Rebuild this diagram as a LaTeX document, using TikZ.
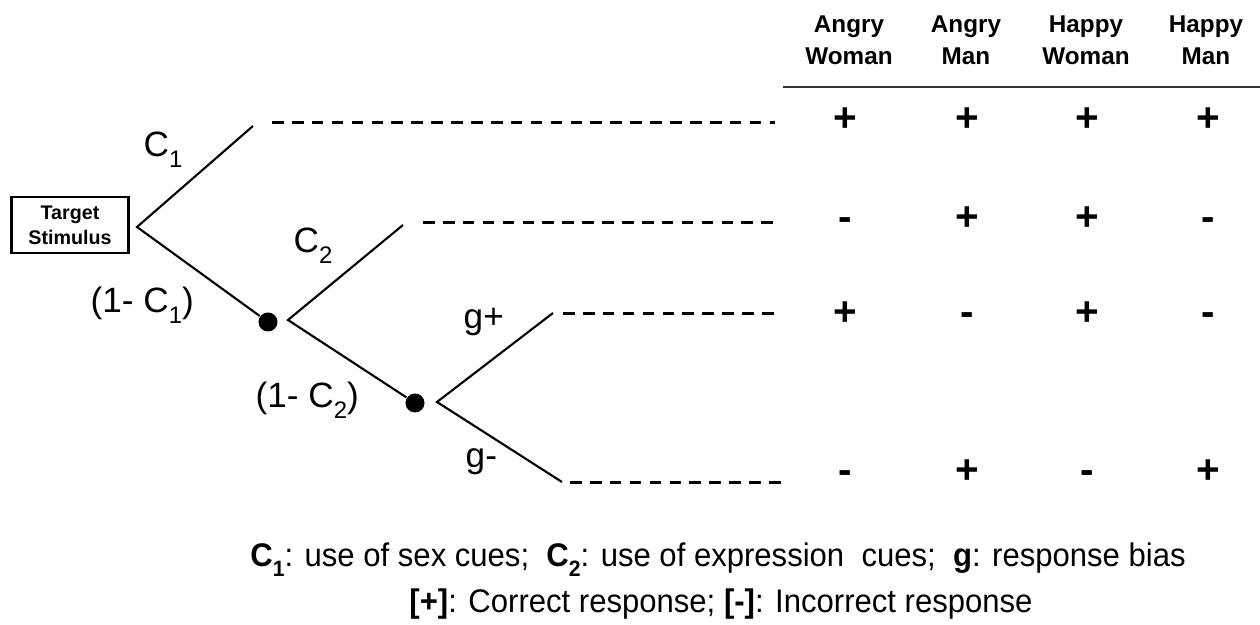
\documentclass[tikz,border=0pt]{standalone}
\usepackage{fontspec}
\setmainfont{Liberation Sans}
\newfontfamily\narrowfont{Liberation Sans}[FakeStretch=0.95]
\usepackage{tikz}
\newcommand{\idx}[1]{\raisebox{-0.3em}{\scalebox{0.68}{#1}}}

\begin{document}
\begin{tikzpicture}[x=0.01cm, y=-0.01cm,
        stimbox/.style={rectangle, draw, line width=0.8pt, minimum width=1.17cm, minimum height=0.56cm,
                        inner sep=1pt, align=center, font=\fontsize{5.6}{7.1}\selectfont\bfseries},
        dot/.style={circle, fill=black, inner sep=0pt, minimum size=0.19cm},
        branch/.style={draw, line width=0.6pt},
        outcome/.style={draw, line width=0.85pt, dash pattern=on 3.3pt off 2.36pt},
        prob/.style={anchor=base west, inner sep=0pt, font=\fontsize{10}{12}\selectfont},
        colhead/.style={anchor=north, inner sep=0pt, align=center, font=\fontsize{6.9}{9.1}\selectfont\bfseries},
        sign/.style={inner sep=0pt, text height=0.7em, text depth=0pt, font=\fontsize{11.5}{12}\selectfont\bfseries},
        legend/.style={anchor=base, inner sep=0pt, font=\fontsize{9.3}{11}\selectfont\narrowfont}
    ]
    \useasboundingbox (0,0) rectangle (1260,625);

    % tree
    \node [stimbox] (target) at (70,225) {Target\\Stimulus};
    \coordinate (root)   at (137,227);
    \coordinate (c1end)  at (253,126);
    \node [dot] (dotA) at (268,322) {};
    \coordinate (splitA) at (288,320);
    \coordinate (c2end)  at (403,225);
    \node [dot] (dotB) at (415,403) {};
    \coordinate (splitB) at (437,402);
    \coordinate (gpend)  at (553,313);
    \coordinate (gmend)  at (562,482);

    \path [branch] (c1end) -- (root) -- (dotA);
    \path [branch] (c2end) -- (splitA) -- (dotB);
    \path [branch] (gpend) -- (splitB) -- (gmend);

    \node [prob] (lc1)  at (143,157) {C\idx{1}};
    \node [prob] (lnc1) at (90,313)  {(1- C\idx{1})};
    \node [prob] (lc2)  at (293,253) {C\idx{2}};
    \node [prob] (lnc2) at (255,408) {(1- C\idx{2})};
    \node [prob] (lgp)  at (463,329) {g+};
    \node [prob] (lgm)  at (465,468) {g-};

    % outcome rows
    \coordinate (r1a) at (272,123);  \coordinate (r1b) at (775,123);
    \coordinate (r2a) at (423,223);  \coordinate (r2b) at (775,223);
    \coordinate (r3a) at (563,314);  \coordinate (r3b) at (775,314);
    \coordinate (r4a) at (570,483);  \coordinate (r4b) at (785,483);
    \foreach \r in {1,...,4}
        \path [outcome] (r\r a) -- (r\r b);

    % table
    \node [colhead] (hAW) at (849,15)  {Angry\\Woman};
    \node [colhead] (hAM) at (966,15)  {Angry\\Man};
    \node [colhead] (hHW) at (1086,15) {Happy\\Woman};
    \node [colhead] (hHM) at (1206,15) {Happy\\Man};
    \coordinate (ruleL) at (783,87);
    \coordinate (ruleR) at (1260,87);
    \draw [line width=0.5pt, black!80] (ruleL) -- (ruleR);

    \foreach \r/\yy/\sa/\sb/\sc/\sd in {1/119/+/+/+/+, 2/218/-/+/+/-, 3/313/+/-/+/-, 4/471/-/+/-/+} {
        \node [sign] (s\r-1) at (845,\yy)  {\sa};
        \node [sign] (s\r-2) at (967,\yy)  {\sb};
        \node [sign] (s\r-3) at (1087,\yy) {\sc};
        \node [sign] (s\r-4) at (1208,\yy) {\sd};
    }

    % key
    \node [legend] (key1) at (718,567) {\textbf{C\idx{1}}: use of sex cues; \ \textbf{C\idx{2}}: use of expression \ cues; \ \textbf{g}: response bias};
    \node [legend] (key2) at (721,613) {\textbf{[+]}: Correct response; \textbf{[-]}: Incorrect response};
\end{tikzpicture}
\end{document}
